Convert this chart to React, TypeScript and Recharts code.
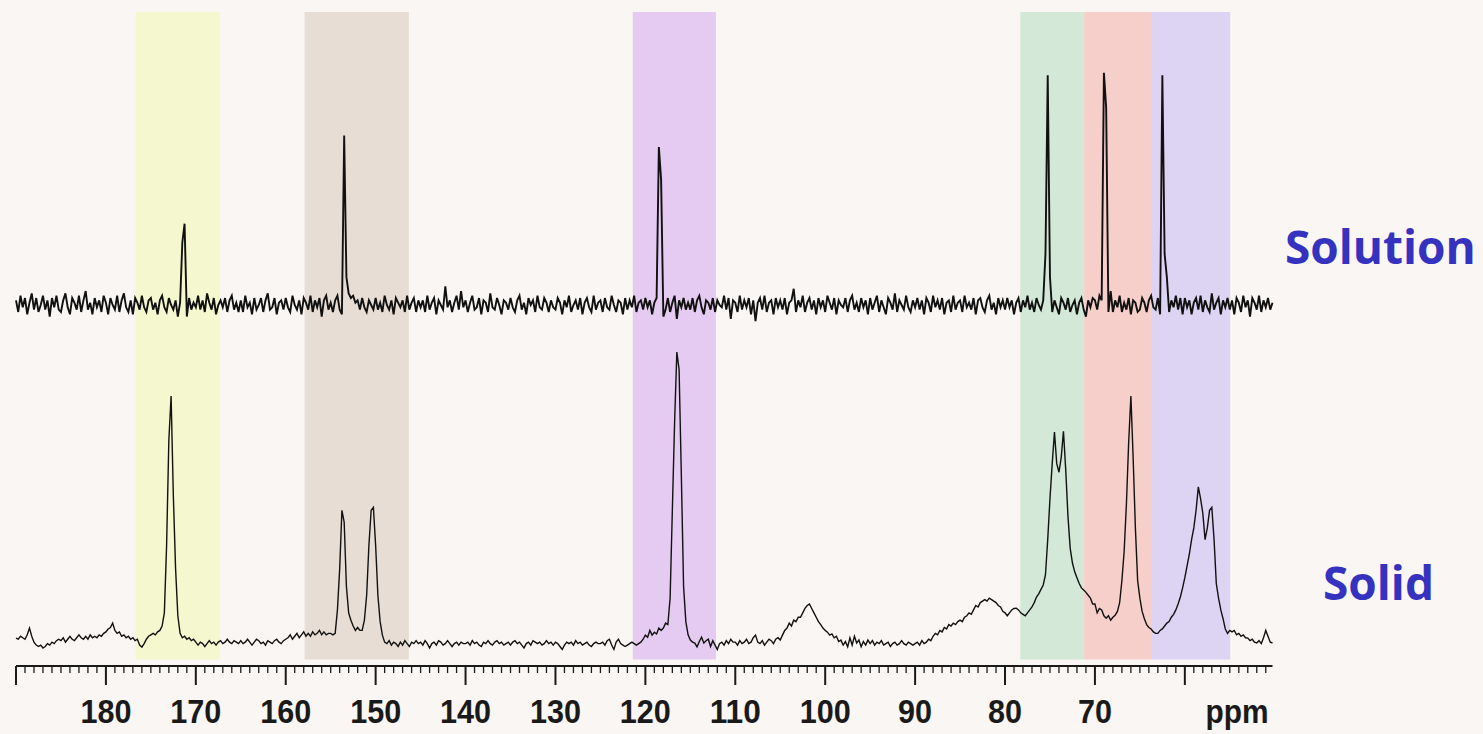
import { LineChart, Line, XAxis, YAxis, ReferenceArea } from 'recharts';

// 13C spectra sampled every 0.25 ppm from 190 down to 50.25 ppm
// intensities in % of the tallest peak of each trace
const solidIntensity = [
  2.4, 2, 3, 2.5, 2, 3.5, 5.8, 3, 1, 0, -0.5, 0, -1, -0.5, 0.5, 0, 1, 0.5, 1.5, 2, // 190
  1.5, 2.5, 1, 2, 3, 2, 1.5, 2.5, 3.5, 2.5, 2, 3, 2, 3.5, 2.5, 3, 2.5, 3.5, 3, 4, // 185
  4.5, 5.5, 6, 7.5, 5, 4, 4.5, 3, 3.5, 2.5, 3, 2, 2.5, 1.5, 2, 0, -0.7, 0.5, 2, 3, // 180
  3.5, 4, 3.5, 4.5, 5, 6.5, 11, 34, 70, 85, 51, 26, 10, 4, 2.5, 3, 2, 2.5, 1.5, 2, // 175
  1, 0, 1, 0.5, -0.5, 0.5, 1.5, 0.5, 1, 0, 1, 1.5, 0.5, 1, 2, 1, 0.5, 1.5, 1, 0.5, // 170
  1.5, 0.5, 1, 2, 1, 0, 1, 2, 1.5, 0.5, 1, 0, 1.5, 1, 0.5, 1.5, 2, 1, 0.5, 1.5, // 165
  2, 2.5, 3.5, 2, 3, 4, 2.5, 3.5, 4.5, 3, 4, 3, 4.5, 3.5, 4, 5, 3.5, 4.5, 3.5, 4, // 160
  4, 3.5, 4, 12, 26, 46, 42, 20, 11, 8.5, 6.5, 5, 6, 5, 5, 8.5, 17, 34, 46, 47, // 155
  34, 17, 8, 3.4, 1, 0.5, 1.5, 0, 1, 0.5, -0.5, 1, 0, 1.5, 0.5, -0.5, 1, 0.5, 1.5, 0.5, // 150
  1, 0, 1.5, 0.5, -1, 0.5, 1, 0, 1.5, 1, 0, 0.5, 1.5, 0.5, -0.5, 0.5, 1, 0, 1, 0.5, // 145
  0.5, 1, 0, 1.5, 0.5, 1, 0, -0.5, 1, 0.5, 1.5, 0.5, 0, 1, 1.5, 0.5, 1, 0, 0.5, 1, // 140
  0, 1, 1.5, 0.5, 1, 0, -1, 0.5, 1, 0, 1.5, 1, 0.5, 1, 0, 0.5, 1.5, 0.5, 1, 0, // 135
  1, 0.5, -0.5, -1.5, 0, 1, 0.5, 1, 0, 1.5, 0.5, 1, 0, 0.5, 1, 0, -0.5, 0.5, 1, 0.5, // 130
  0.5, 1, 0, 1.5, 2, 0, -1.5, 1, 2, 0.5, 0, -0.5, 0, 0.5, 1, 0.5, 0, 0.5, 1, 2, // 125
  3.4, 2.7, 5, 3.4, 4.4, 3.8, 5.8, 5, 5.8, 7.5, 7, 16, 46, 76, 100, 94, 58, 20, 8, 3.5, // 120
  1.7, 1, 0.7, -0.6, 1.2, 2.7, 0.7, 1.5, 2, -0.5, 1.5, 0, -1.5, 0.5, 1, 0, 1.5, 0.5, 2, 1, // 115
  1, 0, 1.5, 0.5, 1, 2, 0.5, 1, 2.5, 3.4, 1, 0.5, 1.5, 0, 1, 2, 1.5, 0.5, 2, 2.5, // 110
  1.7, 3.4, 5, 5.8, 7.5, 6.5, 8.5, 8, 9.5, 9.5, 11, 12.5, 13.5, 14, 12.5, 11, 9.5, 8, 7, 5.8, // 105
  5, 4.4, 3.4, 3.8, 2.5, 3, 1.2, 1.7, 0, 1.2, -0.6, 2.5, 0, 3, 0.7, 1.7, -0.6, 1.2, 0, 1.7, // 100
  0.5, 1.5, 0, 1, 0.5, 1.5, 0, 0.5, 1, -0.5, 0.5, 1, 0, 0.5, 1.5, 0.5, 0, 1, 0.5, 0, // 95
  0.5, 1, 0, 1.5, 0.5, 1, 2, 1.5, 3, 4, 3.5, 5, 4.5, 6, 5.5, 7, 6.5, 7.5, 7, 8, // 90
  8.5, 8, 9.5, 10, 11, 10.5, 12, 13.5, 13, 14.5, 15, 15.5, 15, 16, 15.5, 15, 14.5, 13.5, 13, 11.5, // 85
  11, 10, 11, 12, 12.5, 12.6, 12, 11, 10.5, 10, 11, 12, 13, 14.5, 16.4, 17.5, 19, 20.5, 24, 36, // 80
  50, 62, 72.7, 62, 59, 64, 73, 60, 44, 33, 28, 25, 23, 21, 19.5, 18.8, 18, 17, 16, 14, // 75
  14, 11, 12.5, 12, 10, 9.2, 10, 8.5, 9.5, 10.2, 11.5, 14.5, 22, 32, 48, 69, 85, 64, 40, 22, // 70
  16, 11.5, 9, 7, 6, 5.5, 4.5, 4, 4, 5, 5.5, 6.5, 7.5, 8, 9.5, 10.5, 12, 14, 16.4, 19.5, // 65
  23, 27, 31, 36, 40, 46, 54, 50, 45, 36, 40, 46, 47, 36, 21, 16, 12, 9, 5.5, 4, // 60
  5, 4.5, 5, 3.5, 4, 3, 3.5, 2.5, 2.4, 1.5, 2, 1, 0.7, 1.5, 0.5, 2.5, 5, 3, 1, 0.7, // 55
];

const solutionIntensity = [
  2, -3, 4, -1, 3, -4, 1, 5, -2, 3, -3, 0, 4, -2, 2, -5, 3, -1, 4, -2, // 190
  -3, 2, 5, -1, -4, 3, 1, -2, 4, -3, 2, 6, -2, 1, -4, 3, -1, 2, -3, 4, // 185
  1, -4, 3, 0, -2, 4, -3, 2, 5, -1, -3, 2, -4, 3, 1, -2, 4, -1, -3, 2, // 180
  3, -2, 1, -4, 2, 4, -1, -3, 3, 0, -2, 2, -5, 1, 27, 35, -5, 3, -2, 1, // 175
  -1, 4, -2, 2, -3, 5, 1, -2, 3, -4, 0, 2, -1, 3, -3, 2, 4, -2, 1, -3, // 170
  2, -3, 4, -1, 1, -4, 3, -2, 0, 3, -3, 2, 5, -2, -1, 3, -4, 1, 2, -2, // 165
  3, -1, -3, 4, 0, -2, 2, -4, 3, 1, -2, 4, -3, 2, -1, 3, -5, 2, 4, -2, // 160
  1, -3, 2, 4, -2, -4, 73, 12, 5, 3, 4, 1, 2, -2, 3, -1, -3, 2, 0, -2, // 155
  3, -2, 1, -3, 4, 0, -2, 2, -4, 3, 1, -1, 2, -3, 4, -2, 1, 3, -3, 2, // 150
  -1, 2, -3, 4, -2, 1, 3, -4, 2, 0, -2, 8, -1, 2, -3, 1, 4, -2, 6, -1, // 145
  2, -3, 1, 4, -2, -1, 3, -4, 2, 1, -3, 5, -1, -2, 3, 0, -4, 2, 1, -2, // 140
  3, -1, -3, 2, 4, -2, 1, -4, 3, 0, 2, -3, 4, -1, -2, 3, 1, -3, 2, -1, // 135
  -2, 3, 1, -4, 2, -1, 4, -3, 0, 2, -2, 3, -4, 1, 3, -1, -3, 4, -2, 1, // 130
  2, -3, 3, -1, -2, 4, 0, -3, 2, 1, -4, 3, -2, 2, -1, 4, -3, 1, 2, -2, // 125
  3, -1, 2, -4, 1, 3, 68, 54, -5, -2, 3, -3, 1, 4, -6, 2, -1, 3, -2, 1, // 120
  -2, 3, -3, 2, 4, -1, -4, 2, 1, -2, 3, -3, 2, 0, -1, 4, -2, 3, -6, 2, // 115
  1, -3, 4, -2, 2, -1, 3, -4, 2, -7, 1, 3, -2, 4, -3, 1, 2, -4, 3, -1, // 110
  2, -2, 3, -4, 1, 2, 7, -3, 2, -1, 4, -3, 1, 3, -2, 2, -4, 3, -1, 2, // 105
  -3, 4, 1, -2, 3, -4, 2, 0, -1, 3, -3, 2, 4, -2, 1, -3, 3, -1, 2, -4, // 100
  3, -2, 1, 4, -3, 2, -1, -4, 3, 1, -2, 5, -3, 2, 0, -2, 4, -1, -3, 2, // 95
  -1, 3, -2, 2, -4, 3, 1, -3, 4, -1, 2, -2, 3, -4, 1, 2, -3, 4, -2, 1, // 90
  2, -3, 4, -1, 1, -2, 3, -4, 2, 3, -1, -3, 2, 4, -2, 1, -4, 3, -1, 2, // 85
  -2, 3, -1, 2, -4, 1, 3, -3, 2, -1, 4, -2, 1, -3, 3, 0, -2, 2, 22, 99, // 80
  12, -3, 2, -1, -4, 3, 1, -2, 3, -3, 0, 2, -4, 1, 3, -2, -5, 2, -1, 3, // 75
  2, -2, 4, 2, 100, 85, -3, 6, -3, 2, -1, 4, -3, 1, -2, 3, -4, 2, 1, -3, // 70
  -2, 3, 1, -3, 2, 4, -1, -2, 3, -4, 99, 22, 12, -3, 2, -1, 4, -2, 3, -4, // 65
  3, -1, 2, -4, 1, 3, -2, 4, -3, 2, -1, -3, 5, -2, 1, 3, -4, 2, -1, 3, // 60
  -2, 2, -4, 3, 1, -3, 4, -1, 2, -5, 3, 1, -2, 4, -3, 2, -1, 3, -2, 1, // 55
];

// shaded assignment regions (ppm)
const bandFrom = [176.7, 157.9, 121.4, 78.3, 71.2, 63.65];
const bandTo = [167.3, 146.3, 112.15, 71.2, 63.65, 54.95];
const bandColors = ['#f5f7cf', '#e7ddd5', '#e5cbf1', '#d3e8d6', '#f6cfcb', '#dcd4f2'];

const labelledTicks = [180, 170, 160, 150, 140, 130, 120, 110, 100, 90, 80, 70];
const axisTicks = Array.from({ length: 140 }, (_, i) => 190 - i);
const traceNames = ['Solution', 'Solid'];
const unitLabel = 'ppm';

const PPM_START = 190;
const PPM_STEP = 0.25;

const data = solidIntensity.map((v, i) => ({
  ppm: PPM_START - i * PPM_STEP,
  solid: 3.2 + v * 0.448,
  solution: 55.2 + solutionIntensity[i] * 0.355,
}));

const axisFont = "'Liberation Sans', Arial, sans-serif";

const PpmTick = (props: any) => {
  const { x, y, payload } = props;
  const v = payload.value;
  const major = v % 10 === 0;
  const label = String(v);
  return (
    <g>
      <line x1={x} x2={x} y1={y} y2={y + (major ? 19 : 7)} stroke="#1a1a1a" strokeWidth={major ? 2 : 1.3} />
      {labelledTicks.includes(v) && (
        <text
          x={x}
          y={y + 57}
          textAnchor="middle"
          fontFamily={axisFont}
          fontWeight="bold"
          fontSize={34}
          textLength={label.length * 17}
          lengthAdjust="spacingAndGlyphs"
          fill="#1a1a1a"
        >
          {label}
        </text>
      )}
    </g>
  );
};

export default function App() {
  return (
    <div style={{ position: 'absolute', left: 0, top: 0, width: 1483, height: 734, background: '#f9f6f3', overflow: 'hidden' }}>
      <LineChart width={1483} height={734} data={data} margin={{ top: 12, right: 210.5, bottom: 0, left: 16 }}>
        <XAxis
          dataKey="ppm"
          type="number"
          domain={[50.25, 190]}
          reversed
          ticks={axisTicks}
          interval={0}
          tick={<PpmTick />}
          tickLine={false}
          tickSize={0}
          tickMargin={0}
          height={68}
          axisLine={{ stroke: '#1a1a1a', strokeWidth: 2 }}
        />
        <YAxis type="number" domain={[0, 100]} hide />
        {bandFrom.map((from, i) => (
          <ReferenceArea key={i} x1={from} x2={bandTo[i]} y1={1} y2={100} fill={bandColors[i]} fillOpacity={1} stroke="none" />
        ))}
        <Line type="linear" dataKey="solution" stroke="#111" strokeWidth={1.9} dot={false} isAnimationActive={false} />
        <Line type="linear" dataKey="solid" stroke="#111" strokeWidth={1.4} dot={false} isAnimationActive={false} />
      </LineChart>
      <svg width={1483} height={734} style={{ position: 'absolute', left: 0, top: 0, pointerEvents: 'none' }}>
        <text
          x={1237}
          y={723}
          textAnchor="middle"
          fontFamily={axisFont}
          fontWeight="bold"
          fontSize={34}
          textLength={63}
          lengthAdjust="spacingAndGlyphs"
          fill="#1a1a1a"
        >
          {unitLabel}
        </text>
        <text x={1285} y={264} fontFamily="'Open Sans', sans-serif" fontWeight="bold" fontSize={46} fill="#3632c0">
          {traceNames[0]}
        </text>
        <text x={1323} y={600} fontFamily="'Open Sans', sans-serif" fontWeight="bold" fontSize={46} fill="#3632c0">
          {traceNames[1]}
        </text>
      </svg>
    </div>
  );
}
